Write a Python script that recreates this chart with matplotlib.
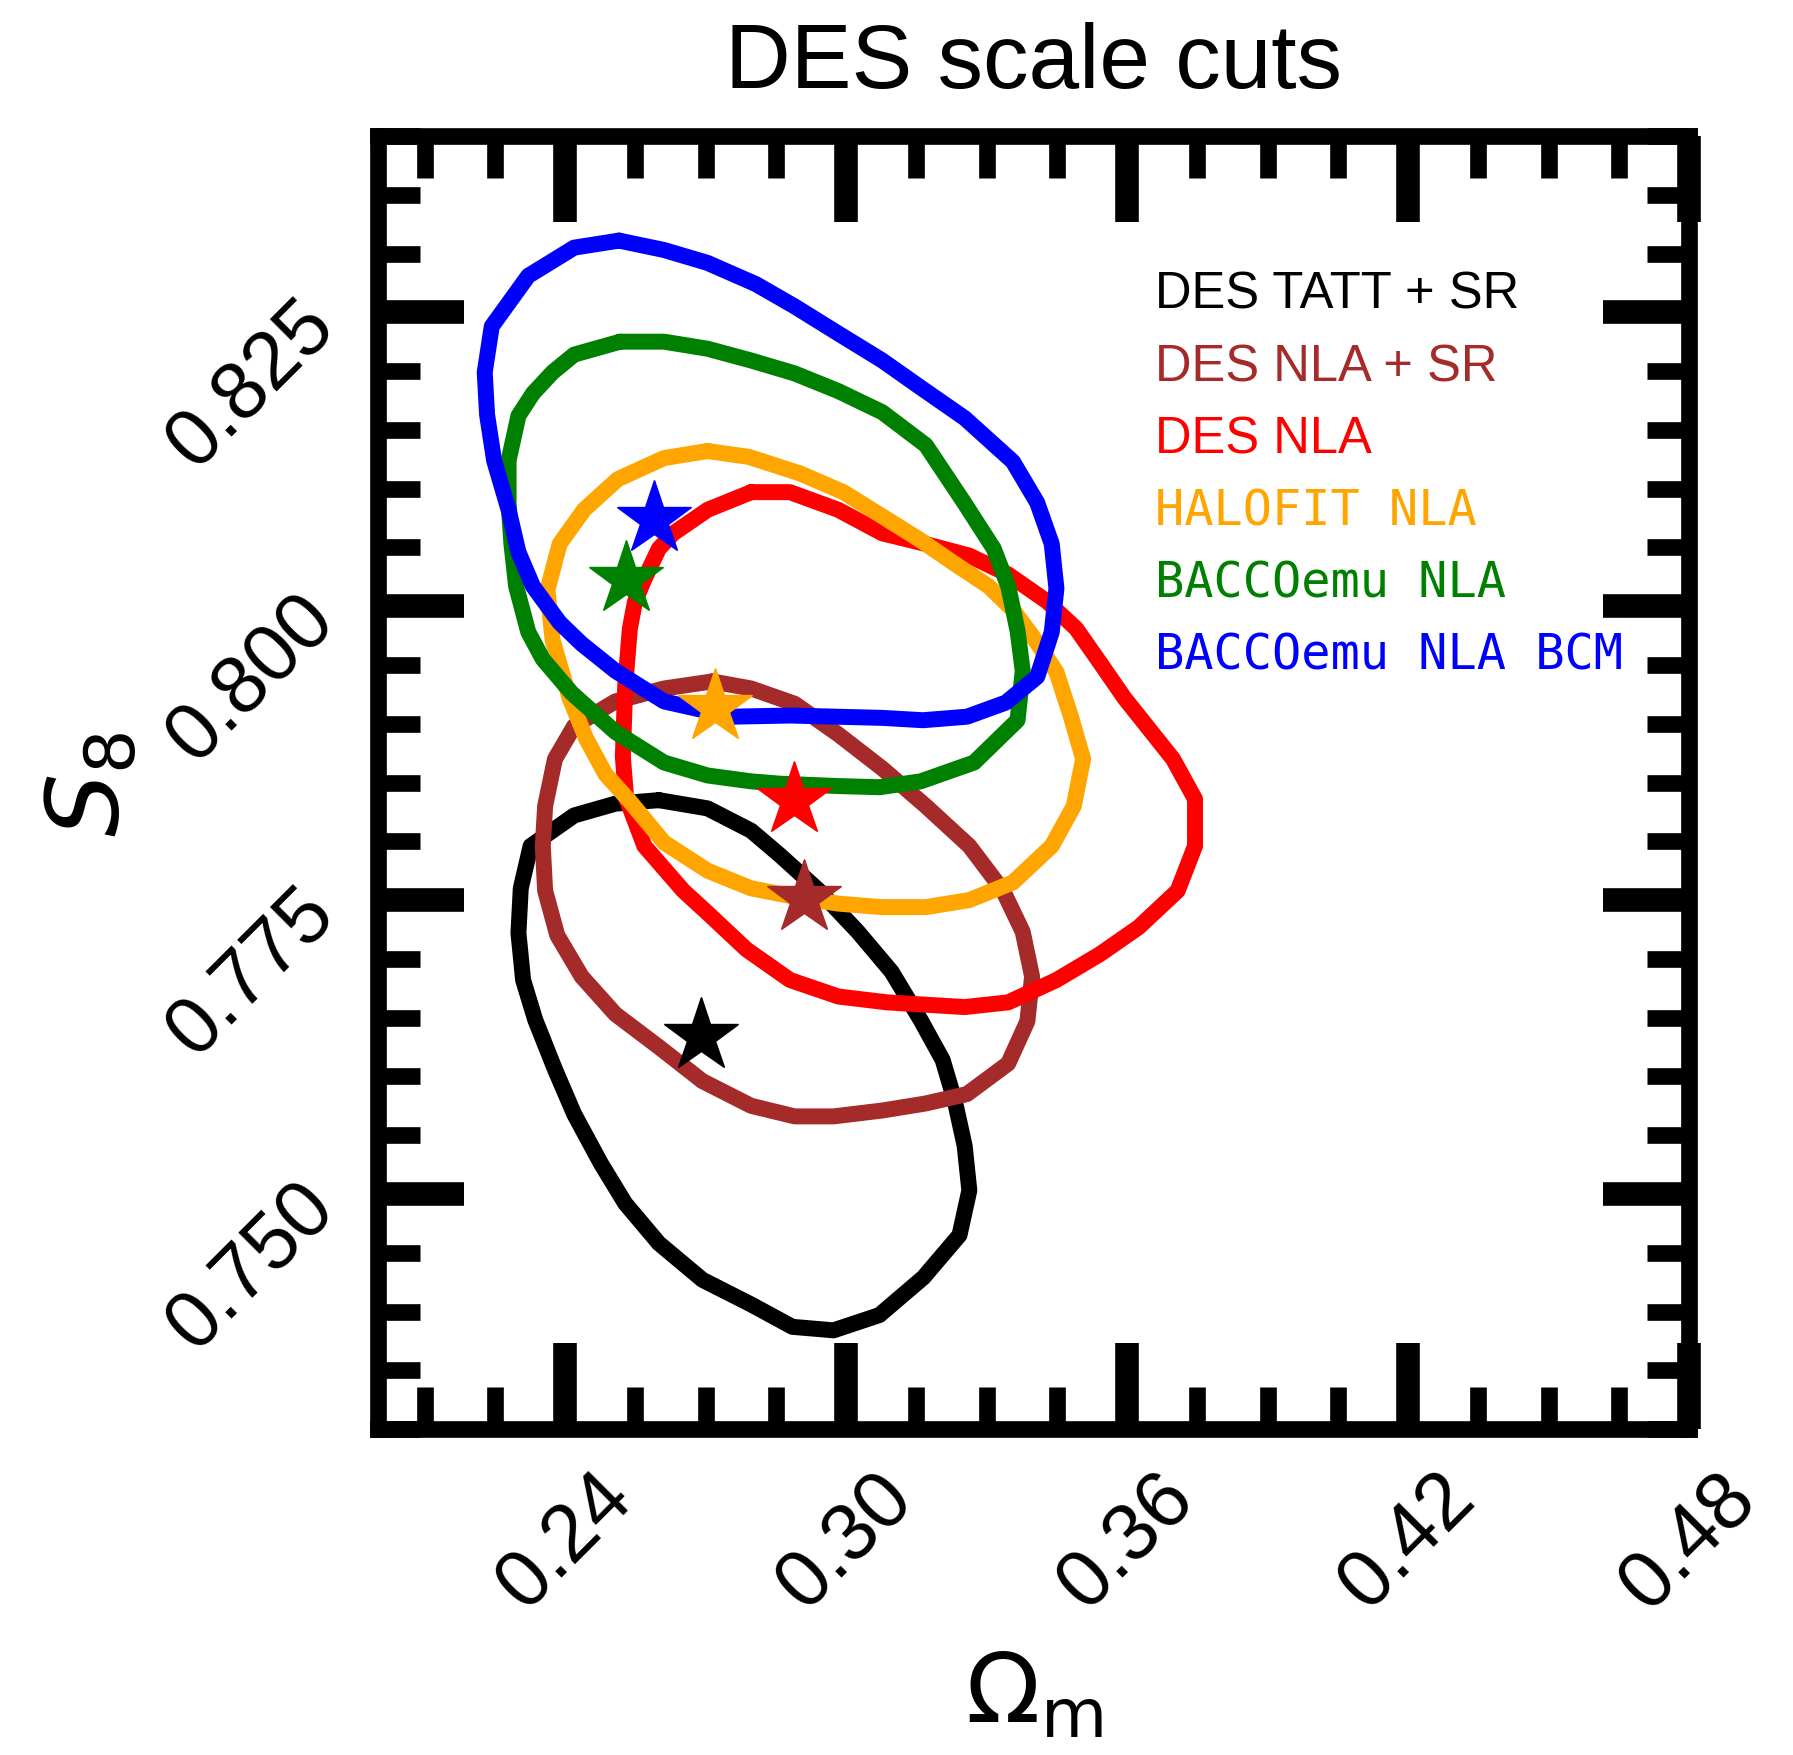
import matplotlib
matplotlib.use("Agg")
import matplotlib.pyplot as plt
from matplotlib.ticker import MultipleLocator, FormatStrFormatter

plt.rcParams['font.family'] = ['Liberation Sans', 'DejaVu Sans']

# 68% contours in the (Omega_m, S_8) plane, one closed path per analysis
tatt_sr_om = [0.2600, 0.2507, 0.2419, 0.2326, 0.2305, 0.2300, 0.2310, 0.2336, 0.2378, 0.2419,
              0.2476, 0.2528, 0.2600, 0.2693, 0.2797, 0.2885, 0.2973, 0.3071, 0.3165, 0.3242,
              0.3263, 0.3253, 0.3232, 0.3206, 0.3159, 0.3097, 0.3025, 0.2942, 0.2859, 0.2797, 0.2704]
tatt_sr_s8 = [0.7835, 0.7832, 0.7822, 0.7796, 0.7760, 0.7722, 0.7682, 0.7648, 0.7606, 0.7568,
              0.7526, 0.7492, 0.7458, 0.7427, 0.7406, 0.7387, 0.7384, 0.7397, 0.7429, 0.7465,
              0.7503, 0.7541, 0.7579, 0.7614, 0.7648, 0.7689, 0.7723, 0.7758, 0.7788, 0.7809, 0.7828]

nla_sr_om = [0.2714, 0.2611, 0.2507, 0.2419, 0.2378, 0.2357, 0.2352, 0.2357, 0.2383, 0.2435,
             0.2507, 0.2600, 0.2693, 0.2797, 0.2890, 0.2973, 0.3077, 0.3170, 0.3258, 0.3346,
             0.3387, 0.3397, 0.3377, 0.3335, 0.3263, 0.3170, 0.3077, 0.2983, 0.2890, 0.2797]
nla_sr_s8 = [0.7936, 0.7930, 0.7919, 0.7898, 0.7870, 0.7830, 0.7796, 0.7758, 0.7720, 0.7685,
             0.7653, 0.7625, 0.7596, 0.7575, 0.7566, 0.7566, 0.7571, 0.7577, 0.7585, 0.7611,
             0.7647, 0.7685, 0.7723, 0.7758, 0.7796, 0.7830, 0.7862, 0.7891, 0.7917, 0.7930]

nla_om = [0.2797, 0.2880, 0.2983, 0.3077, 0.3159, 0.3263, 0.3346, 0.3429, 0.3491, 0.3542,
          0.3594, 0.3646, 0.3698, 0.3745, 0.3745, 0.3708, 0.3625, 0.3542, 0.3449, 0.3346,
          0.3253, 0.3087, 0.2983, 0.2880, 0.2787, 0.2704, 0.2652, 0.2569, 0.2530, 0.2523,
          0.2528, 0.2538, 0.2549, 0.2569, 0.2600, 0.2631, 0.2704]
nla_s8 = [0.8097, 0.8097, 0.8082, 0.8062, 0.8054, 0.8043, 0.8027, 0.8004, 0.7981, 0.7952,
          0.7922, 0.7896, 0.7870, 0.7836, 0.7796, 0.7758, 0.7727, 0.7704, 0.7682, 0.7663,
          0.7659, 0.7663, 0.7668, 0.7682, 0.7708, 0.7739, 0.7758, 0.7796, 0.7837, 0.7872,
          0.7932, 0.7981, 0.8004, 0.8023, 0.8049, 0.8062, 0.8082]

halofit_om = [0.2704, 0.2611, 0.2512, 0.2440, 0.2388, 0.2362, 0.2373, 0.2409, 0.2445, 0.2486,
              0.2538, 0.2611, 0.2704, 0.2797, 0.2900, 0.2983, 0.3077, 0.3170, 0.3263, 0.3356,
              0.3439, 0.3486, 0.3506, 0.3480, 0.3449, 0.3397, 0.3356, 0.3304, 0.3232, 0.3159,
              0.3087, 0.2994, 0.2901, 0.2792]
halofit_s8 = [0.8132, 0.8126, 0.8108, 0.8082, 0.8053, 0.8014, 0.7971, 0.7922, 0.7887, 0.7857,
              0.7834, 0.7799, 0.7775, 0.7760, 0.7752, 0.7747, 0.7744, 0.7744, 0.7750, 0.7765,
              0.7796, 0.7830, 0.7870, 0.7906, 0.7944, 0.7975, 0.7997, 0.8017, 0.8036, 0.8056,
              0.8074, 0.8097, 0.8113, 0.8127]

bacco_om = [0.2517, 0.2611, 0.2704, 0.2797, 0.2890, 0.2983, 0.3077, 0.3170, 0.3252, 0.3315,
            0.3346, 0.3366, 0.3377, 0.3366, 0.3273, 0.3159, 0.3071, 0.2983, 0.2859, 0.2797,
            0.2704, 0.2611, 0.2507, 0.2414, 0.2352, 0.2321, 0.2295, 0.2285, 0.2279, 0.2279,
            0.2300, 0.2331, 0.2373, 0.2419]
bacco_s8 = [0.8225, 0.8225, 0.8219, 0.8209, 0.8198, 0.8183, 0.8165, 0.8137, 0.8088, 0.8049,
            0.8017, 0.7979, 0.7945, 0.7903, 0.7867, 0.7851, 0.7846, 0.7847, 0.7849, 0.7851,
            0.7856, 0.7867, 0.7893, 0.7926, 0.7955, 0.7978, 0.8017, 0.8053, 0.8088, 0.8124,
            0.8162, 0.8181, 0.8199, 0.8214]

bcm_om = [0.2515, 0.2419, 0.2321, 0.2243, 0.2228, 0.2233, 0.2248, 0.2279, 0.2300, 0.2331,
          0.2388, 0.2435, 0.2507, 0.2611, 0.2756, 0.2880, 0.3077, 0.3164, 0.3258, 0.3341,
          0.3408, 0.3439, 0.3449, 0.3439, 0.3408, 0.3356, 0.3253, 0.3159, 0.3077, 0.2983,
          0.2890, 0.2807, 0.2704, 0.2611]
bcm_s8 = [0.8311, 0.8305, 0.8281, 0.8238, 0.8199, 0.8163, 0.8124, 0.8082, 0.8046, 0.8017,
          0.7986, 0.7968, 0.7945, 0.7919, 0.7906, 0.7907, 0.7905, 0.7903, 0.7906, 0.7918,
          0.7940, 0.7978, 0.8015, 0.8053, 0.8088, 0.8123, 0.8160, 0.8186, 0.8209, 0.8232,
          0.8255, 0.8274, 0.8292, 0.8303]

# best-fit points, same order as the labels
labels = ['DES TATT + SR', 'DES NLA + SR', 'DES NLA', 'HALOFIT NLA', 'BACCOemu NLA', 'BACCOemu NLA BCM']
colors = ['black', 'brown', 'red', 'orange', 'green', 'blue']
best_om = [0.2690, 0.2909, 0.2888, 0.2719, 0.2530, 0.2590]
best_s8 = [0.7634, 0.7752, 0.7835, 0.7914, 0.8023, 0.8074]

contours = [(tatt_sr_om, tatt_sr_s8), (nla_sr_om, nla_sr_s8), (nla_om, nla_s8),
            (halofit_om, halofit_s8), (bacco_om, bacco_s8), (bcm_om, bcm_s8)]

fig = plt.figure(figsize=(17.93, 17.56), dpi=100)
ax = fig.add_axes([0.2108, 0.1856, 0.7312, 0.7364])

for (om, s8), c in zip(contours, colors):
    ax.plot(om + om[:1], s8 + s8[:1], color=c, lw=11.5,
            solid_joinstyle='round', solid_capstyle='round')

for om, s8, c in zip(best_om, best_s8, colors):
    ax.plot(om, s8, marker='*', ms=56, color=c, mec=c, zorder=5)

ax.set_xlim(0.20, 0.48)
ax.set_ylim(0.73, 0.84)

ax.xaxis.set_major_locator(MultipleLocator(0.06))
ax.xaxis.set_minor_locator(MultipleLocator(0.015))
ax.yaxis.set_major_locator(MultipleLocator(0.025))
ax.yaxis.set_minor_locator(MultipleLocator(0.005))
ax.xaxis.set_major_formatter(FormatStrFormatter('%.2f'))
ax.yaxis.set_major_formatter(FormatStrFormatter('%.3f'))

for sp in ax.spines.values():
    sp.set_linewidth(12)

ax.tick_params(which='both', direction='in', top=True, right=True)
ax.tick_params(which='major', length=62, width=17, labelsize=58)
ax.tick_params(which='minor', length=30, width=12)
ax.tick_params(axis='x', which='major', pad=21)
ax.tick_params(axis='y', which='major', pad=40)

for lab in ax.get_xticklabels():
    lab.set_rotation(45)
    lab.set_ha('center')
for lab in ax.get_yticklabels():
    lab.set_rotation(45)
    lab.set_rotation_mode('anchor')
    lab.set_ha('right')
    lab.set_va('center')

ax.set_xlabel(r'$\Omega_{\rm m}$', fontsize=70)
ax.set_ylabel(r'$S_8$', fontsize=72)
ax.xaxis.set_label_coords(0.5, -0.171)
ax.yaxis.set_label_coords(-0.181, 0.499)
ax.set_title('DES scale cuts', fontsize=65.5, pad=35)

# text-only legend, coloured like the contours
fonts = ['Liberation Sans'] * 3 + ['DejaVu Sans Mono'] * 3
sizes = [36.5, 36.5, 36.5, 35, 35, 35]
for i, (lab, c, f, s) in enumerate(zip(labels, colors, fonts, sizes)):
    ax.text(0.5927, 0.867 - i * 0.0558, lab, color=c, fontfamily=f, fontsize=s,
            va='baseline', ha='left', transform=ax.transAxes)

fig.savefig('out.png', dpi=100)
